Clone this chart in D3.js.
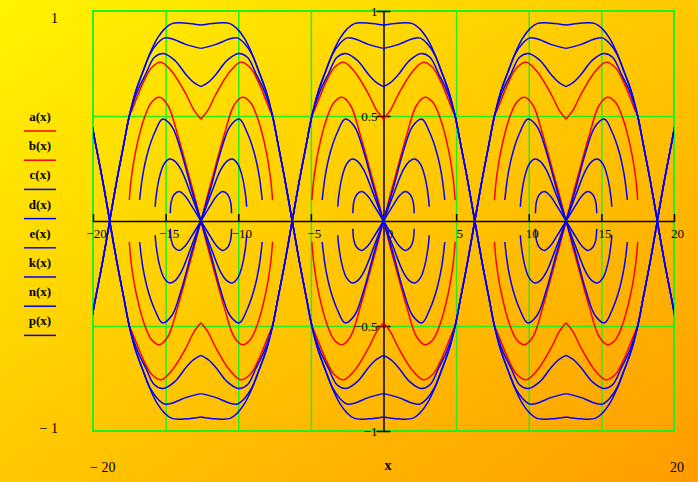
<!DOCTYPE html>
<html>
<head>
<meta charset="utf-8">
<script src="https://d3js.org/d3.v7.min.js"></script>
<style>
  body { margin: 0; padding: 0; overflow: hidden; }
  text { font-family: "Liberation Serif", "Times New Roman", serif; }
</style>
</head>
<body>
<div class="chart"></div>
<script>
// quarter of each trace: upper branch, right half of one period (x from period centre)
var a = [[0,0.485],[0.5,0.53],[1,0.6],[2,0.712],[2.75,0.756],[3.4,0.73],[4,0.655],[4.45,0.58],[4.8,0.52],[4.93,0.5],[5.3,0.37],[5.8,0.19],[6.283,0]];
var b = [[0,0],[0.45,0.12],[0.9,0.235],[1.6,0.41],[2.27,0.55],[2.85,0.589],[3.4,0.565],[3.9,0.49],[4.47,0.34],[4.8,0.2],[4.93,0.1]];
var c = [[0,0.933],[1,0.942],[2,0.94],[2.5,0.915],[3,0.87],[3.5,0.8],[4,0.71],[4.5,0.615],[4.93,0.5],[5.3,0.37],[5.8,0.19],[6.283,0]];
var d = [[0,0.822],[1,0.84],[2,0.868],[2.5,0.872],[3,0.845],[3.5,0.795],[4,0.71],[4.5,0.615],[4.93,0.5],[5.3,0.37],[5.8,0.19],[6.283,0]];
var e = [[0,0.64],[0.5,0.66],[1,0.695],[1.8,0.765],[2.6,0.798],[3.2,0.78],[3.8,0.7],[4.3,0.63],[4.7,0.555],[4.93,0.5],[5.3,0.37],[5.8,0.19],[6.283,0]];
var k = [[0,0],[0.67,0.156],[1.36,0.33],[2,0.45],[2.65,0.485],[3.19,0.42],[3.65,0.33],[4,0.22],[4.22,0.1]];
var n = [[0,0],[0.67,0.124],[1.36,0.243],[1.8,0.285],[2.16,0.295],[2.55,0.27],[2.85,0.21],[3.08,0.12],[3.15,0.068]];
var p = [[0,0],[0.67,0.076],[1.1,0.12],[1.5,0.14],[1.85,0.125],[2.04,0.092],[2.11,0.037]];

// the pattern repeats around these x positions
var centers = [-25.13, -12.57, 0, 12.57, 25.13];

var traceNames = ["a(x)", "b(x)", "c(x)", "d(x)", "e(x)", "k(x)", "n(x)", "p(x)"];
var traceData = [a, b, c, d, e, k, n, p];
var traceColors = ["#ff0000", "#ff0000", "#0000ff", "#0000ff", "#0000ff", "#0000ff", "#0000ff", "#0000ff"];

var xTicks = [-20, -15, -10, -5, 0, 5, 10, 15, 20];
var yTicks = [1, 0.5, -0.5, -1];
var xGrid = [-15, -10, -5, 5, 10, 15];
var yGrid = [0.5, -0.5];

var svgWidth = 698;
var svgHeight = 482;

var plot = { left: 93, right: 674, top: 11, bottom: 431 };

var svg = d3.select(".chart")
  .append("svg")
  .attr("width", svgWidth)
  .attr("height", svgHeight);

// yellow -> orange background
var defs = svg.append("defs");
var grad = defs.append("linearGradient")
  .attr("id", "bg")
  .attr("x1", "0").attr("y1", "0")
  .attr("x2", "1").attr("y2", "1");
grad.append("stop").attr("offset", "0%").attr("stop-color", "#fff400");
grad.append("stop").attr("offset", "50%").attr("stop-color", "#ffc800");
grad.append("stop").attr("offset", "100%").attr("stop-color", "#ff9c00");

defs.append("clipPath").attr("id", "plotClip")
  .append("rect")
  .attr("x", plot.left).attr("y", plot.top)
  .attr("width", plot.right - plot.left)
  .attr("height", plot.bottom - plot.top);

svg.append("rect")
  .attr("width", svgWidth)
  .attr("height", svgHeight)
  .attr("fill", "url(#bg)");

var xScale = d3.scaleLinear().domain([-20, 20]).range([plot.left, plot.right]);
var yScale = d3.scaleLinear().domain([-1, 1]).range([plot.bottom, plot.top]);

var green = "#22ee22";

// grid lines
svg.append("g")
  .attr("transform", `translate(0, ${plot.bottom})`)
  .call(d3.axisBottom(xScale).tickValues(xGrid).tickSize(-(plot.bottom - plot.top)).tickFormat(""))
  .call(g => g.select(".domain").remove())
  .selectAll("line")
  .attr("stroke", green)
  .attr("stroke-width", 1.5);

svg.append("g")
  .attr("transform", `translate(${plot.left}, 0)`)
  .call(d3.axisLeft(yScale).tickValues(yGrid).tickSize(-(plot.right - plot.left)).tickFormat(""))
  .call(g => g.select(".domain").remove())
  .selectAll("line")
  .attr("stroke", green)
  .attr("stroke-width", 1.5);

svg.append("rect")
  .attr("x", plot.left).attr("y", plot.top)
  .attr("width", plot.right - plot.left)
  .attr("height", plot.bottom - plot.top)
  .attr("fill", "none")
  .attr("stroke", green)
  .attr("stroke-width", 2);

// crossing axes through the origin
function minusText(v) {
  return v < 0 ? "\u2212" + Math.abs(v) : String(v);
}

var xAxis = svg.append("g")
  .attr("transform", `translate(0, ${yScale(0)})`)
  .call(d3.axisBottom(xScale).tickValues(xTicks).tickSize(0).tickFormat(minusText));
xAxis.select(".domain").attr("stroke", "#000").attr("stroke-width", 1.5);
xAxis.selectAll(".tick").append("line")
  .attr("y1", -7).attr("y2", 1)
  .attr("stroke", "#000").attr("stroke-width", 1.5);
xAxis.selectAll(".tick text")
  .attr("x", v => v === 0 ? 6 : 3)
  .attr("y", 17)
  .attr("dy", 0)
  .attr("fill", "#000")
  .style("font-size", "13px");

var yAxis = svg.append("g")
  .attr("transform", `translate(${xScale(0)}, 0)`)
  .call(d3.axisLeft(yScale).tickValues(yTicks).tickSize(0).tickFormat(minusText));
yAxis.select(".domain").attr("stroke", "#000").attr("stroke-width", 1.5);
yAxis.selectAll(".tick").append("line")
  .attr("x1", -7).attr("x2", 7)
  .attr("stroke", "#000").attr("stroke-width", 1.5);
yAxis.selectAll(".tick text")
  .attr("x", -6)
  .attr("dy", "0.35em")
  .attr("fill", "#000")
  .style("font-size", "13px");

// traces: every quarter is mirrored left/right and up/down around each centre
var line = d3.line()
  .x(pt => xScale(pt[0]))
  .y(pt => yScale(pt[1]))
  .curve(d3.curveCatmullRom.alpha(0.5));

var traceGroup = svg.append("g").attr("clip-path", "url(#plotClip)");

traceData.forEach(function(series, i) {
  centers.forEach(function(cx) {
    [1, -1].forEach(function(sx) {
      [1, -1].forEach(function(sy) {
        traceGroup.append("path")
          .datum(series.map(pt => [cx + sx * pt[0], sy * pt[1]]))
          .attr("d", line)
          .attr("fill", "none")
          .attr("stroke", traceColors[i])
          .attr("stroke-width", 1.5);
      });
    });
  });
});

// legend on the left
var legend = svg.append("g");
traceNames.forEach(function(name, i) {
  legend.append("text")
    .attr("x", 40)
    .attr("y", 121 + i * 29.2)
    .attr("text-anchor", "middle")
    .style("font-size", "13px")
    .style("font-weight", "bold")
    .attr("fill", "#000")
    .text(name);
  legend.append("line")
    .attr("x1", 24).attr("x2", 56)
    .attr("y1", 131 + i * 29.2).attr("y2", 131 + i * 29.2)
    .attr("stroke", traceColors[i])
    .attr("stroke-width", 1.5);
});

// axis limit labels
var limitLabels = [
  { t: "1", x: 58, y: 23, anchor: "end", bold: false },
  { t: "\u2212 1", x: 58, y: 433, anchor: "end", bold: false },
  { t: "\u2212 20", x: 90, y: 472, anchor: "start", bold: false },
  { t: "x", x: 388, y: 470, anchor: "middle", bold: true },
  { t: "20", x: 684, y: 472, anchor: "end", bold: false }
];
svg.selectAll(".limit")
  .data(limitLabels)
  .enter()
  .append("text")
  .attr("class", "limit")
  .attr("x", l => l.x)
  .attr("y", l => l.y)
  .attr("text-anchor", l => l.anchor)
  .style("font-size", "14px")
  .style("font-weight", l => l.bold ? "bold" : "normal")
  .attr("fill", "#000")
  .text(l => l.t);
</script>
</body>
</html>
